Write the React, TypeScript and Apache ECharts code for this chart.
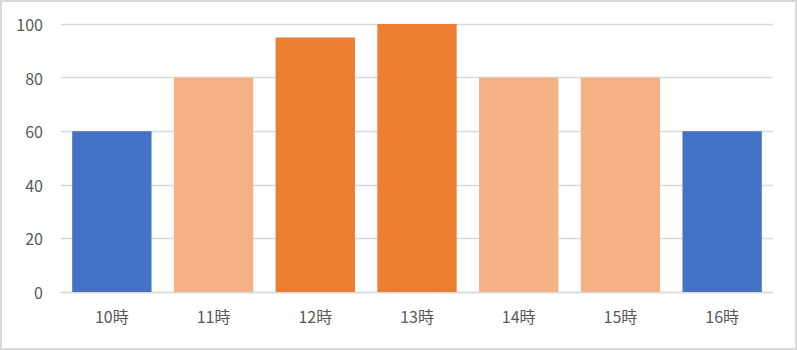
import React, { useEffect, useRef } from "react";
import * as echarts from "echarts";

const categories = ["10時", "11時", "12時", "13時", "14時", "15時", "16時"];
const values = [60, 80, 95, 100, 80, 80, 60];
const barColors = ["#4472C4", "#F4B183", "#ED7D31", "#ED7D31", "#F4B183", "#F4B183", "#4472C4"];
const yTicks = { min: 0, max: 100, interval: 20 };

export default function App() {
  const ref = useRef<HTMLDivElement>(null);
  useEffect(() => {
    document.body.style.margin = "0";
    const chart = echarts.init(ref.current!, null, { renderer: "svg" });
    const font = "'Noto Sans CJK JP', 'Noto Sans', sans-serif";
    chart.setOption({
      animation: false,
      backgroundColor: "#ffffff",
      grid: { left: 61, right: 24, top: 24, bottom: 58 },
      graphic: [
        {
          type: "rect",
          shape: { x: 1, y: 1, width: 795, height: 348 },
          style: { fill: "none", stroke: "#d9d9d9", lineWidth: 2 },
          silent: true,
        },
      ],
      xAxis: {
        type: "category",
        data: categories,
        axisLine: { show: true, lineStyle: { color: "#d9d9d9", width: 1.3 } },
        axisTick: { show: false },
        axisLabel: { color: "#595959", fontSize: 16, fontFamily: font, margin: 16 },
      },
      yAxis: {
        type: "value",
        min: yTicks.min,
        max: yTicks.max,
        interval: yTicks.interval,
        axisLine: { show: false },
        axisTick: { show: false },
        axisLabel: { color: "#595959", fontSize: 16, fontFamily: font, margin: 18 },
        splitLine: { lineStyle: { color: "#d9d9d9", width: 1.3 } },
      },
      series: [
        {
          type: "bar",
          data: values.map((v, i) => ({ value: v, itemStyle: { color: barColors[i] } })),
          barCategoryGap: "22%",
        },
      ],
    });
    return () => chart.dispose();
  }, []);
  return <div ref={ref} style={{ position: "fixed", left: 0, top: 0, width: 797, height: 350 }} />;
}
